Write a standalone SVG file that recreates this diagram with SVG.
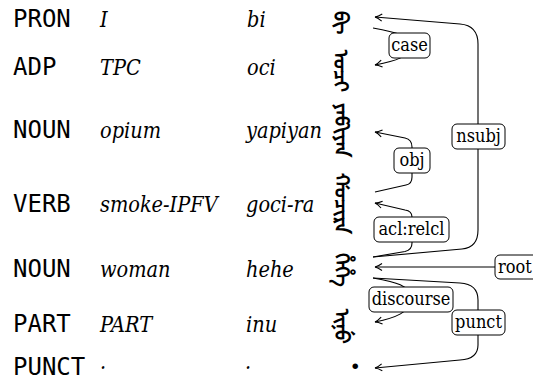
<svg xmlns="http://www.w3.org/2000/svg" width="533" height="383" viewBox="0 0 533 383">
<style>
.pos{font-family:'DejaVu Sans Mono',monospace;font-size:24px;fill:#000}
.gl{font-family:'DejaVu Serif Condensed','DejaVu Serif',serif;font-style:italic;font-size:21.5px;fill:#000}
.mnc{font-family:'Noto Sans Mongolian',sans-serif;font-size:20px;font-weight:bold;writing-mode:vertical-lr;fill:#000}
.dot{font-family:'DejaVu Serif',serif;font-weight:bold;font-size:30px;fill:#000}
.lbl rect{fill:#fff;stroke:#000;stroke-width:1}
.lbl text{font-family:'DejaVu Serif Condensed','DejaVu Serif',serif;font-size:18px;text-anchor:middle;fill:#000}
.e{fill:none;stroke:#000;stroke-width:1.1}
</style>
<defs>
<marker id="arr" viewBox="-9 -5 10 10" refX="0" refY="0" markerWidth="10" markerHeight="10" markerUnits="userSpaceOnUse" orient="auto">
<path d="M-7,-3.5 Q-3,-0.6 0,0 Q-3,0.6 -7,3.5" fill="none" stroke="#000" stroke-width="1.1"/>
</marker>
</defs>
<g id="w1">
<text class="pos" x="13" y="26.5">PRON</text>
<text class="gl" x="100" y="26.5">I</text>
<text class="gl" x="247" y="26.5">bi</text>
<text class="mnc" x="345" y="11">ᠪᡳ</text>
</g>
<g id="w2">
<text class="pos" x="13" y="74.5">ADP</text>
<text class="gl" x="100" y="74.5">TPC</text>
<text class="gl" x="247" y="74.5">oci</text>
<text class="mnc" x="345" y="50">ᠣᠴᡳ</text>
</g>
<g id="w3">
<text class="pos" x="13" y="137.5">NOUN</text>
<text class="gl" x="100" y="137.5">opium</text>
<text class="gl" x="246" y="137.5">yapiyan</text>
<text class="mnc" x="346" y="103">ᠶᠠᡦᡳᠶᠠᠨ</text>
</g>
<g id="w4">
<text class="pos" x="13" y="211.5">VERB</text>
<text class="gl" x="100" y="211.5">smoke-IPFV</text>
<text class="gl" x="246" y="211.5">goci-ra</text>
<text class="mnc" x="346" y="173">ᡤᠣᠴᡳᡵᠠ</text>
</g>
<g id="w5">
<text class="pos" x="13" y="276.5">NOUN</text>
<text class="gl" x="100" y="276.5">woman</text>
<text class="gl" x="246" y="276.5">hehe</text>
<text class="mnc" x="346" y="253">ᡥᡝᡥᡝ</text>
</g>
<g id="w6">
<text class="pos" x="13" y="331.5">PART</text>
<text class="gl" x="100" y="331.5">PART</text>
<text class="gl" x="246" y="331.5">inu</text>
<text class="mnc" x="346" y="309">ᡳᠨᡠ</text>
</g>
<g id="w7">
<text class="pos" x="13" y="375">PUNCT</text>
<text class="gl" x="100" y="375">·</text>
<text class="gl" x="245" y="375">·</text>
<text class="dot" x="350" y="377">·</text>
</g>
<g id="connectors">
<path class="e" marker-end="url(#arr)" d="M373,28 C395,32 410,35 410,46 C410,57 395,61 375,65"/>
<path class="e" marker-end="url(#arr)" d="M373,257 L462,249 Q478,247.5 478,230 L478,44 Q478,25.5 460,24 L375,17"/>
<path class="e" marker-end="url(#arr)" d="M375,192 L406,185 Q412,184 412,177 L412,147 Q412,139.5 405,138 L375,132"/>
<path class="e" marker-end="url(#arr)" d="M373,257 L405,251.5 Q412,250 412,243 L412,217 Q412,211 405,210 L375,203"/>
<path class="e" marker-end="url(#arr)" d="M495,267 L375,267"/>
<path class="e" marker-end="url(#arr)" d="M373,278 C395,282 411,285 411,299 C411,312 395,318 375,322"/>
<path class="e" marker-end="url(#arr)" d="M373,278 L460,283 Q478,284 478,300 L478,345 Q478,359 460,360 L375,368"/>
<g class="lbl"><rect x="389" y="33" width="41" height="25" rx="5"/><text x="409.5" y="51">case</text></g>
<g class="lbl"><rect x="452" y="124" width="53" height="25" rx="5"/><text x="478.5" y="142">nsubj</text></g>
<g class="lbl"><rect x="394" y="148" width="36" height="25" rx="5"/><text x="412" y="166">obj</text></g>
<g class="lbl"><rect x="374" y="217" width="75" height="25" rx="5"/><text x="411.5" y="235">acl:relcl</text></g>
<g class="lbl"><rect x="495" y="255" width="45" height="24" rx="5"/><text x="498" y="273" style="text-anchor:start">root</text></g>
<g class="lbl"><rect x="369" y="287" width="84" height="25" rx="5"/><text x="411" y="305">discourse</text></g>
<g class="lbl"><rect x="452" y="310" width="53" height="25" rx="5"/><text x="478.5" y="328">punct</text></g>
</g>
</svg>
